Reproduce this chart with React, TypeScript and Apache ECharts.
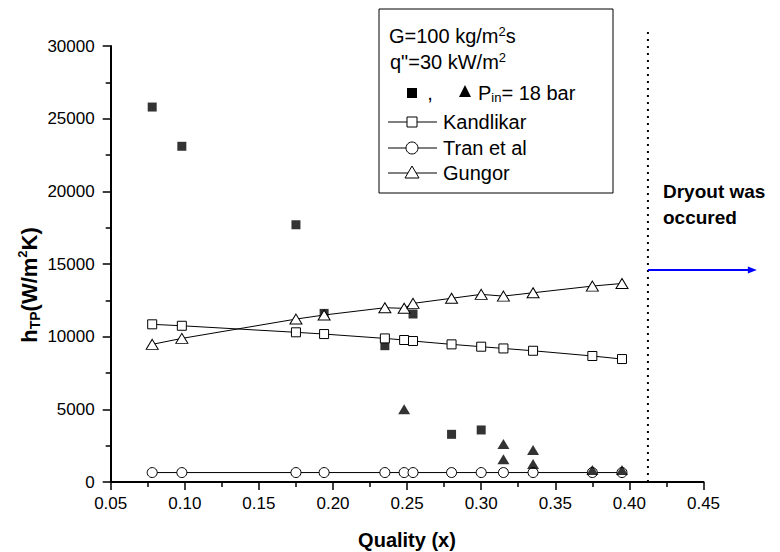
import React, { useEffect, useRef } from "react";
import * as echarts from "echarts";

const FONT = '"Liberation Sans", Arial, Helvetica, sans-serif';

// x positions (vapour quality) of the correlation predictions
const quality = [0.078, 0.098, 0.175, 0.194, 0.235, 0.248, 0.254, 0.28, 0.3, 0.315, 0.335, 0.375, 0.395];
const kandlikar = [10850, 10750, 10300, 10180, 9880, 9770, 9700, 9470, 9310, 9190, 9030, 8670, 8460];
const tranEtAl = [650, 650, 650, 650, 650, 650, 650, 650, 650, 650, 650, 650, 650];
const gungor = [9470, 9880, 11210, 11490, 11990, 11950, 12290, 12640, 12910, 12790, 13020, 13480, 13660];

// experimental points (filled squares)
const expSquareX = [0.078, 0.098, 0.175, 0.194, 0.235, 0.254, 0.28, 0.3];
const expSquareY = [25800, 23100, 17700, 11600, 9380, 11560, 3280, 3580];

// experimental points (filled triangles)
const expTriangleX = [0.248, 0.315, 0.315, 0.335, 0.335, 0.375, 0.395];
const expTriangleY = [5000, 2610, 1560, 2200, 1240, 830, 830];

// dryout marker
const dryoutX = 0.4125;
const dryoutTop = 31200;
const arrowY = 14580;
const arrowEndX = 0.486;

// axis ticks
const xMin = 0.05, xMax = 0.45, xStep = 0.05;
const yMin = 0, yMax = 30000, yStep = 5000;

export default function App() {
  const ref = useRef<HTMLDivElement>(null);
  useEffect(() => {
    if (!ref.current) return;
    const chart = echarts.init(ref.current, null, { renderer: "svg" });
    const black = "#000";
    const axisCommon = {
      type: "value" as const,
      axisLine: { show: true, lineStyle: { color: black, width: 2 } },
      axisTick: { show: true, length: 8, lineStyle: { color: black, width: 1.5 } },
      minorTick: { show: true, splitNumber: 2, length: 5, lineStyle: { color: black, width: 1.5 } },
      splitLine: { show: false },
      minorSplitLine: { show: false },
    };
    const openItem = { color: "#fff", borderColor: black, borderWidth: 1 };
    const legendRows = [
      { y: 122, label: "Kandlikar", sym: "rect" },
      { y: 148, label: "Tran et al", sym: "circle" },
      { y: 173, label: "Gungor", sym: "tri" },
    ];
    const legendGraphics: any[] = [
      {
        type: "rect",
        shape: { x: 379, y: 9, width: 234, height: 184 },
        style: { fill: "#fff", stroke: black, lineWidth: 1 },
        z: 10,
      },
      {
        type: "text", x: 389, y: 36, z: 11,
        style: {
          text: "{a|G=100 kg/m}{s|2}{a|s}",
          verticalAlign: "middle",
          rich: {
            a: { fontSize: 20, lineHeight: 22, fontFamily: FONT, fill: black },
            s: { fontSize: 13, lineHeight: 12, fontFamily: FONT, fill: black, verticalAlign: "top" },
          },
        },
      },
      {
        type: "text", x: 390, y: 62, z: 11,
        style: {
          text: '{a|q"=30 kW/m}{s|2}',
          verticalAlign: "middle",
          rich: {
            a: { fontSize: 20, lineHeight: 22, fontFamily: FONT, fill: black },
            s: { fontSize: 13, lineHeight: 12, fontFamily: FONT, fill: black, verticalAlign: "top" },
          },
        },
      },
      { type: "rect", z: 11, shape: { x: 407, y: 88, width: 10, height: 10 }, style: { fill: black } },
      {
        type: "text", x: 430, y: 93, z: 11,
        style: { text: ",", fontSize: 20, fontFamily: FONT, fill: black, verticalAlign: "middle", align: "center" },
      },
      { type: "polygon", z: 11, shape: { points: [[465, 85], [459, 97], [471, 97]] }, style: { fill: black } },
      {
        type: "text", x: 478, y: 93, z: 11,
        style: {
          text: "{a|P}{b|in}{a|= 18 bar}",
          verticalAlign: "middle",
          rich: {
            a: { fontSize: 20, lineHeight: 22, fontFamily: FONT, fill: black },
            b: { fontSize: 13, lineHeight: 12, fontFamily: FONT, fill: black, verticalAlign: "bottom" },
          },
        },
      },
    ];
    legendRows.forEach((r) => {
      legendGraphics.push({
        type: "line", z: 11,
        shape: { x1: 388, y1: r.y, x2: 437, y2: r.y },
        style: { stroke: black, lineWidth: 1 },
      });
      if (r.sym === "rect") {
        legendGraphics.push({ type: "rect", z: 12, shape: { x: 407, y: r.y - 5, width: 10, height: 10 }, style: { fill: "#fff", stroke: black, lineWidth: 1 } });
      } else if (r.sym === "circle") {
        legendGraphics.push({ type: "circle", z: 12, shape: { cx: 412, cy: r.y, r: 6 }, style: { fill: "#fff", stroke: black, lineWidth: 1 } });
      } else {
        legendGraphics.push({ type: "polygon", z: 12, shape: { points: [[412, r.y - 7], [405, r.y + 5], [419, r.y + 5]] }, style: { fill: "#fff", stroke: black, lineWidth: 1 } });
      }
      legendGraphics.push({
        type: "text", x: 443, y: r.y, z: 12,
        style: { text: r.label, fontSize: 20, fontFamily: FONT, fill: black, verticalAlign: "middle" },
      });
    });

    const option: any = {
      animation: false,
      backgroundColor: "#fff",
      textStyle: { fontFamily: FONT },
      grid: { left: 110.7, right: 76.5, top: 46, bottom: 70, containLabel: false, outerBoundsMode: "none" },
      xAxis: {
        ...axisCommon,
        min: xMin,
        max: xMax,
        interval: xStep,
        axisLabel: {
          color: black, fontSize: 17, fontFamily: FONT, margin: 13,
          formatter: (v: number) => v.toFixed(2),
        },
      },
      yAxis: {
        ...axisCommon,
        min: yMin,
        max: yMax,
        interval: yStep,
        axisLabel: {
          color: black, fontSize: 17, fontFamily: FONT, margin: 16,
          formatter: (v: number) => String(Math.round(v)),
        },
      },
      graphic: [
        ...legendGraphics,
        {
          type: "text", x: 407, y: 540,
          style: { text: "Quality (x)", fontSize: 20, fontWeight: "bold", fontFamily: FONT, fill: black, align: "center", verticalAlign: "middle" },
        },
        {
          type: "text", x: 29, y: 285, rotation: Math.PI / 2,
          style: {
            text: "{a|h}{b|TP}{a|(W/m}{c|2}{a|K)}",
            align: "center",
            verticalAlign: "middle",
            rich: {
              a: { fontSize: 22, lineHeight: 26, fontWeight: "bold", fontFamily: FONT, fill: black },
              b: { fontSize: 14, lineHeight: 14, fontWeight: "bold", fontFamily: FONT, fill: black, verticalAlign: "bottom" },
              c: { fontSize: 13, lineHeight: 13, fontWeight: "bold", fontFamily: FONT, fill: black, verticalAlign: "top" },
            },
          },
        },
        {
          type: "text", x: 663, y: 191,
          style: { text: "Dryout was", fontSize: 19, fontWeight: "bold", fontFamily: FONT, fill: black, verticalAlign: "middle" },
        },
        {
          type: "text", x: 663, y: 217,
          style: { text: "occured", fontSize: 19, fontWeight: "bold", fontFamily: FONT, fill: black, verticalAlign: "middle" },
        },
      ],
      series: [
        {
          name: "exp squares",
          type: "scatter",
          symbol: "rect",
          symbolSize: 9,
          itemStyle: { color: black },
          data: expSquareX.map((x, i) => [x, expSquareY[i]]),
          z: 2,
        },
        {
          name: "Kandlikar",
          type: "line",
          symbol: "rect",
          symbolSize: 9,
          showAllSymbol: true,
          itemStyle: openItem,
          lineStyle: { color: black, width: 1 },
          data: quality.map((x, i) => [x, kandlikar[i]]),
          z: 3,
        },
        {
          name: "Tran et al",
          type: "line",
          symbol: "circle",
          symbolSize: 10,
          showAllSymbol: true,
          itemStyle: openItem,
          lineStyle: { color: black, width: 1 },
          data: quality.map((x, i) => [x, tranEtAl[i]]),
          z: 3,
        },
        {
          name: "Gungor",
          type: "line",
          symbol: "triangle",
          symbolSize: [12, 10],
          showAllSymbol: true,
          itemStyle: openItem,
          lineStyle: { color: black, width: 1 },
          data: quality.map((x, i) => [x, gungor[i]]),
          z: 3,
        },
        {
          name: "exp triangles",
          type: "scatter",
          symbol: "triangle",
          symbolSize: [12, 10],
          itemStyle: { color: black },
          data: expTriangleX.map((x, i) => [x, expTriangleY[i]]),
          z: 4,
        },
        {
          name: "dryout line",
          type: "custom",
          clip: false,
          silent: true,
          data: [[dryoutX, 0, dryoutTop]],
          renderItem: (params: any, api: any) => {
            const p0 = api.coord([api.value(0), api.value(1)]);
            const p1 = api.coord([api.value(0), api.value(2)]);
            return {
              type: "line",
              shape: { x1: p0[0], y1: p0[1], x2: p1[0], y2: p1[1] },
              style: { stroke: black, lineWidth: 2, lineDash: [2, 5] },
            };
          },
          z: 1,
        },
        {
          name: "dryout arrow",
          type: "custom",
          clip: false,
          silent: true,
          data: [[dryoutX, arrowY, arrowEndX]],
          renderItem: (params: any, api: any) => {
            const a = api.coord([api.value(0), api.value(1)]);
            const b = api.coord([api.value(2), api.value(1)]);
            return {
              type: "group",
              children: [
                {
                  type: "line",
                  shape: { x1: a[0], y1: a[1], x2: b[0] - 6, y2: b[1] },
                  style: { stroke: "#0000ff", lineWidth: 2 },
                },
                {
                  type: "polygon",
                  shape: { points: [[b[0], b[1]], [b[0] - 9, b[1] - 3.5], [b[0] - 9, b[1] + 3.5]] },
                  style: { fill: "#0000ff" },
                },
              ],
            };
          },
          z: 1,
        },
      ],
    };
    chart.setOption(option);
    return () => chart.dispose();
  }, []);
  return (
    <div
      ref={ref}
      style={{ position: "absolute", left: 0, top: 0, width: 780, height: 552, background: "#fff" }}
    />
  );
}
